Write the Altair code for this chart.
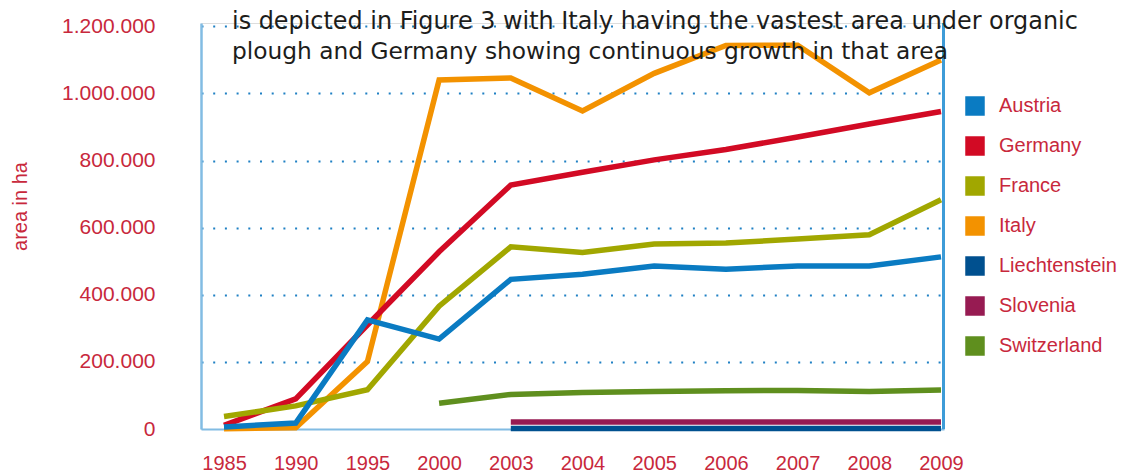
import json
import altair as alt
import pandas as pd

years = ["1985", "1990", "1995", "2000", "2003", "2004", "2005", "2006", "2007", "2008", "2009"]
countries = ["Austria", "Germany", "France", "Italy", "Liechtenstein", "Slovenia", "Switzerland"]
colors = ["#0a7bc2", "#d20a24", "#a1a700", "#f39200", "#00508f", "#971b52", "#5f8f1e"]

austria = [6000, 18000, 325000, 268000, 446000, 461000, 486000, 476000, 486000, 486000, 513000]
germany = [11000, 90000, 310000, 528000, 727000, 765000, 802000, 833000, 870000, 909000, 946000]
france = [37000, 69000, 117000, 366000, 543000, 526000, 551000, 554000, 566000, 579000, 683000]
italy = [1000, 4000, 201000, 1040000, 1046000, 948000, 1060000, 1143000, 1144000, 1002000, 1100000]
liechtenstein = [None, None, None, None, 1500, 1500, 1500, 1500, 1500, 1500, 1500]
slovenia = [None, None, None, None, 21000, 21000, 21000, 21000, 21000, 21000, 21000]
switzerland = [None, None, None, 77000, 103000, 109000, 112000, 114000, 115000, 112000, 116000]

y_ticks = [0, 200000, 400000, 600000, 800000, 1000000, 1200000]
y_labels = ["0", "200.000", "400.000", "600.000", "800.000", "1.000.000", "1.200.000"]

text_lines = [
    "is depicted in Figure 3 with Italy having the vastest area under organic",
    "plough and Germany showing continuous growth in that area",
]

series = {
    "Austria": austria, "Germany": germany, "France": france, "Italy": italy,
    "Liechtenstein": liechtenstein, "Slovenia": slovenia, "Switzerland": switzerland,
}
color_of = dict(zip(countries, colors))
draw_order = ["Italy", "Germany", "France", "Austria", "Switzerland", "Slovenia", "Liechtenstein"]
rows = []
for c in draw_order:
    for i, v in enumerate(series[c]):
        if v is not None:
            rows.append({"country": c, "line_series": c, "idx": i, "year": years[i], "value": v})
df = pd.DataFrame(rows)

RED = "#c8283c"
FONT = "Liberation Sans"

x_label_expr = json.dumps(years) + "[round(datum.value)]"
y_label_expr = json.dumps(y_labels) + "[round(datum.value / 200000)]"

x_enc = alt.X(
    "idx:Q",
    scale=alt.Scale(domain=[-0.321, 10.042], nice=False, zero=False),
    axis=alt.Axis(
        values=list(range(len(years))), labelExpr=x_label_expr, title=None,
        grid=False, ticks=False, domainColor="#82bce3", domainWidth=2,
        labelFontSize=20, labelColor=RED, labelFont=FONT, labelPadding=24,
        labelFlush=False, labelOverlap=False,
    ),
)
y_enc = alt.Y(
    "value:Q",
    scale=alt.Scale(domain=[0, 1210000], nice=False),
    axis=alt.Axis(
        values=y_ticks, labelExpr=y_label_expr, title="area in ha",
        grid=True, gridColor="#1f80c4", gridDash=[2, 9.7], gridWidth=2,
        gridOpacity={"condition": {"test": "datum.value === 0", "value": 0}, "value": 1},
        ticks=False, domainColor="#82bce3", domainWidth=2.5,
        labelFontSize=21, labelColor=RED, labelFont=FONT, labelPadding=46,
        labelBaseline="middle",
        titleFontSize=20, titleColor=RED, titleFont=FONT, titleFontWeight="normal",
        titleX=-181, titleY=183, titleAngle=-90, titleAlign="center", titleBaseline="middle",
    ),
)

# line colours: same mapping, domain listed in drawing order (keeps it distinct from the legend scale)
lines = alt.Chart(df).mark_line(strokeWidth=5.5, strokeCap="butt", strokeJoin="miter").encode(
    x=x_enc,
    y=y_enc,
    color=alt.Color(
        "line_series:N",
        scale=alt.Scale(domain=draw_order, range=[color_of[c] for c in draw_order]),
        legend=None,
    ),
    detail="line_series:N",
)

legend_layer = alt.Chart(df).mark_square(filled=True, size=0.01).encode(
    x="idx:Q",
    y="value:Q",
    fill=alt.Fill(
        "country:N",
        scale=alt.Scale(domain=countries, range=colors),
        legend=alt.Legend(
            orient="none", legendX=764, legendY=73, title=None,
            symbolType="square", symbolSize=380, symbolStrokeWidth=0, symbolOpacity=1,
            labelFontSize=20, labelColor=RED, labelFont=FONT, labelOffset=14,
            rowPadding=20, padding=0, labelLimit=300,
        ),
    ),
)

right_rule = alt.Chart(df).mark_rule(color="#3f9bd7", strokeWidth=1.5).encode(
    x=alt.value(742.5), y=alt.value(0), y2=alt.value(406)
)

tdf = pd.DataFrame({"t": text_lines, "line": [0, 1]})
text1 = alt.Chart(tdf).transform_filter("datum.line == 0").mark_text(
    align="left", baseline="alphabetic", font="DejaVu Sans", fontSize=23.9, color="#1d1d1b"
).encode(text="t:N", x=alt.value(31), y=alt.value(6))
text2 = alt.Chart(tdf).transform_filter("datum.line == 1").mark_text(
    align="left", baseline="alphabetic", font="DejaVu Sans", fontSize=23.3, color="#1d1d1b"
).encode(text="t:N", x=alt.value(31), y=alt.value(36))

chart = alt.layer(lines, legend_layer, right_rule, text1, text2).properties(
    width=743, height=406,
    autosize=alt.AutoSizeParams(type="none"),
    padding={"left": 193, "top": 15, "right": 175, "bottom": 45},
).configure_view(stroke=None).configure(background="white")

chart.save("out.html", embed_options={"renderer": "svg", "actions": False})
